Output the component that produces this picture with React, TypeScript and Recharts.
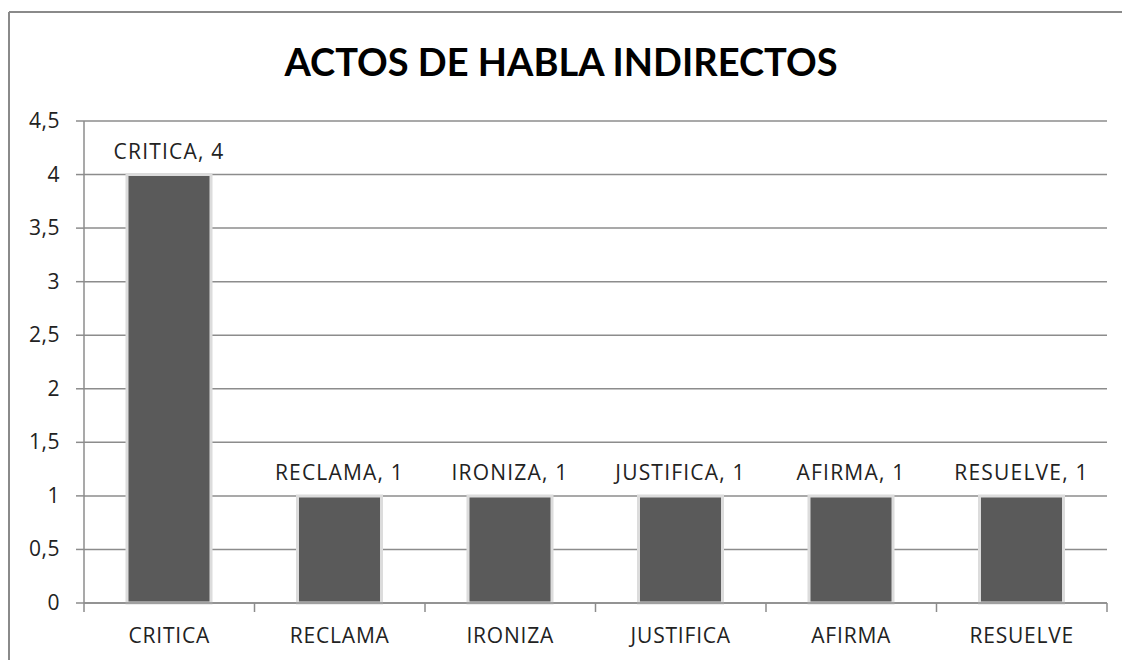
import { BarChart, Bar, XAxis, YAxis, CartesianGrid, LabelList } from 'recharts';

const categories = ['CRITICA', 'RECLAMA', 'IRONIZA', 'JUSTIFICA', 'AFIRMA', 'RESUELVE'];
const values = [4, 1, 1, 1, 1, 1];
const yTicks = [0, 0.5, 1, 1.5, 2, 2.5, 3, 3.5, 4, 4.5];

const data = categories.map((name, i) => ({ name, value: values[i] }));

const FONT = '"Open Sans", sans-serif';
const TITLE_FONT = 'Lato, "Open Sans", sans-serif';
const CHART_W = 1122;
const CHART_H = 660;
const MARGIN = { top: 121, right: 15, left: 24, bottom: 17 };
const Y_AXIS_W = 60;
const BAND = (CHART_W - MARGIN.left - Y_AXIS_W - MARGIN.right) / categories.length;

const fmt = (v: number) => String(v).replace('.', ',');

function XTick(props: any) {
  const { x, y, payload, index } = props;
  const left = x - BAND / 2;
  return (
    <g>
      <line x1={left} x2={left} y1={y - 8} y2={y + 1} stroke="#8c8c8c" strokeWidth={1.5} />
      {index === categories.length - 1 && (
        <line x1={x + BAND / 2} x2={x + BAND / 2} y1={y - 8} y2={y + 1} stroke="#8c8c8c" strokeWidth={1.5} />
      )}
      <text x={x} y={y + 32} textAnchor="middle" fill="#222" fontSize={21} letterSpacing={0.8} fontFamily={FONT}>
        {payload.value}
      </text>
    </g>
  );
}

function YTick(props: any) {
  const { x, y, payload } = props;
  return (
    <text x={x - 14} y={y + 7} textAnchor="end" fill="#222" fontSize={21} letterSpacing={0.5} fontFamily={FONT}>
      {fmt(payload.value)}
    </text>
  );
}

function TopLabel(props: any) {
  const { x, y, width, index } = props;
  return (
    <text x={x + width / 2} y={y - 16} textAnchor="middle" fill="#222" fontSize={21} letterSpacing={1.2} fontFamily={FONT}>
      {`${categories[index]}, ${values[index]}`}
    </text>
  );
}

function App() {
  return (
    <div style={{ position: 'absolute', left: 0, top: 0, width: CHART_W, height: CHART_H, background: '#fff', overflow: 'hidden' }}>
      <svg width={CHART_W} height={CHART_H} style={{ position: 'absolute', left: 0, top: 0 }}>
        <line x1={9} x2={CHART_W} y1={12} y2={12} stroke="#8a8a8a" strokeWidth={2} />
        <line x1={9} x2={9} y1={12} y2={CHART_H} stroke="#8a8a8a" strokeWidth={2} />
      </svg>
      <div
        style={{
          position: 'absolute',
          left: 0,
          width: CHART_W,
          top: 38,
          textAlign: 'center',
          fontFamily: TITLE_FONT,
          fontWeight: 'bold',
          fontSize: 38,
          color: '#000',
        }}
      >
        ACTOS DE HABLA INDIRECTOS
      </div>
      <div style={{ position: 'absolute', left: 0, top: 0 }}>
        <BarChart width={CHART_W} height={CHART_H} data={data} margin={MARGIN}>
          <CartesianGrid vertical={false} stroke="#8c8c8c" strokeWidth={1.5} />
          <XAxis
            dataKey="name"
            height={40}
            axisLine={{ stroke: '#8c8c8c', strokeWidth: 1.5 }}
            tickLine={false}
            tick={<XTick />}
            interval={0}
          />
          <YAxis
            width={Y_AXIS_W}
            domain={[0, 4.5]}
            ticks={yTicks}
            interval={0}
            axisLine={{ stroke: '#8c8c8c', strokeWidth: 1.5 }}
            tickLine={{ stroke: '#8c8c8c', strokeWidth: 1.5 }}
            tickSize={8}
            tick={<YTick />}
          />
          <Bar dataKey="value" fill="#5a5a5a" stroke="#dcdcdc" strokeWidth={3} barSize={84} isAnimationActive={false}>
            <LabelList dataKey="value" content={<TopLabel />} />
          </Bar>
        </BarChart>
      </div>
    </div>
  );
}

export default App;
